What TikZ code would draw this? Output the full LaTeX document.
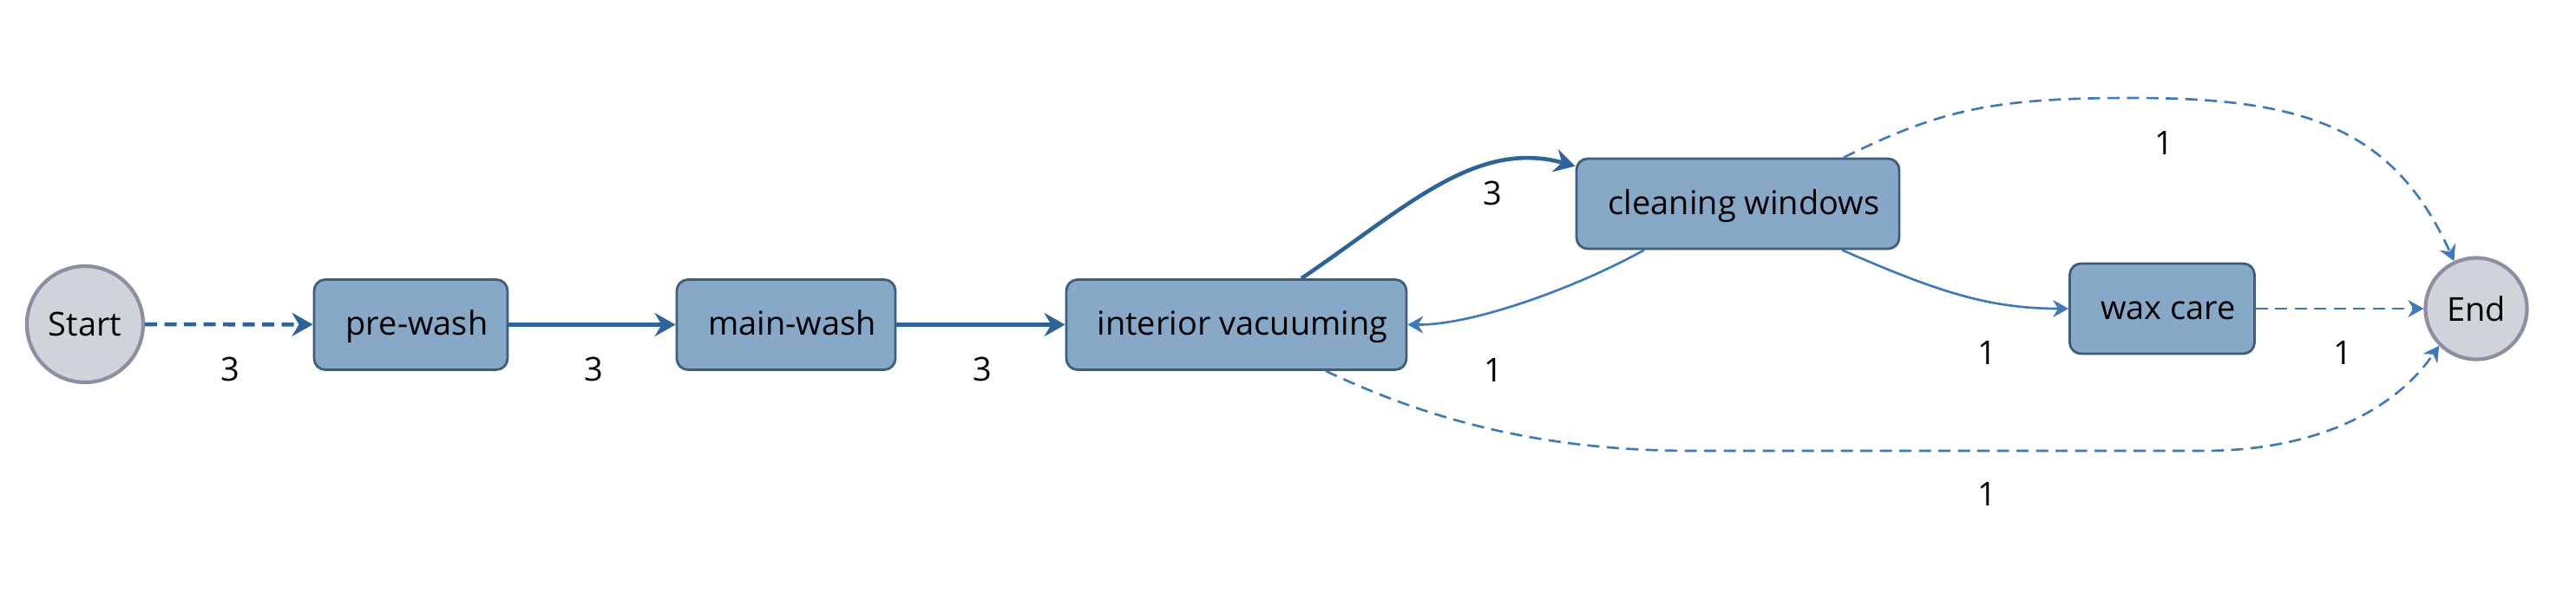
\documentclass[tikz,border=0pt]{standalone}
\usepackage{fontspec}
\setmainfont{Open Sans}
\usepackage{tikz}
\usetikzlibrary{positioning,arrows.meta,calc}
\definecolor{boxfill}{HTML}{88A8C8}
\definecolor{boxline}{HTML}{3E5E7E}
\definecolor{termfill}{HTML}{D1D3DB}
\definecolor{termline}{HTML}{8C8FA3}
\definecolor{heavyblue}{HTML}{2E6399}
\definecolor{lightblue}{HTML}{3D7AB7}
\tikzset{
  actbox/.style={draw=boxline,fill=boxfill,rounded corners=1.3mm,line width=0.8pt,
    minimum height=10.4mm,inner sep=2pt,text height=0.95em,text depth=0.24em,
    execute at begin node={\hspace*{1.4mm}},font=\fontsize{10.8}{13}\selectfont},
  termnode/.style={circle,draw=termline,fill=termfill,line width=1.2pt,
    inner sep=0pt,font=\fontsize{10.8}{13}\selectfont},
  heavy/.style={-{Stealth[length=2.4mm,width=2.7mm,inset=0.8mm]},line width=1.3pt,heavyblue},
  light/.style={-{Stealth[length=1.8mm,width=2.0mm,inset=0.6mm]},line width=0.75pt,lightblue},
  dashline/.style={dash pattern=on 4pt off 2.4pt},
  wlbl/.style={font=\fontsize{10.8}{13}\selectfont,inner sep=1pt},
}
\begin{document}
\begin{tikzpicture}
  \useasboundingbox (0,0) rectangle (29.69,-6.99);
  % ---- activities ----
  \node[termnode,minimum size=13.4mm] (start) at (0.98,-3.74) {Start};
  \node[actbox,minimum width=22.3mm] (prewash) at (4.735,-3.745) {pre-wash};
  \node[actbox,minimum width=25.2mm] (mainwash) at (9.06,-3.745) {main-wash};
  \node[actbox,minimum width=39.2mm] (vacuum) at (14.25,-3.745) {interior vacuuming};
  \node[actbox,minimum width=37.2mm] (windows) at (20.03,-2.35) {cleaning windows};
  \node[actbox,minimum width=21.3mm] (wax) at (24.92,-3.56) {wax care};
  \node[termnode,minimum size=11.7mm] (end) at (28.54,-3.56) {End};
  % ---- frequent flows ----
  \draw[heavy,dashline] (start) -- (prewash);
  \draw[heavy] (prewash) -- (mainwash);
  \draw[heavy] (mainwash) -- (vacuum);
  \draw[heavy] ($(vacuum.north)+(0.75,0)$) .. controls (16.2,-2.4) and (17.0,-1.6)
    .. ($(windows.north west)+(0,-0.1)$);
  % ---- rare flows ----
  \draw[light] ($(windows.south)+(-1.08,0)$) .. controls (18.2,-3.3) and (17.0,-3.75)
    .. (vacuum.east);
  \draw[light] ($(windows.south)+(1.2,0)$) .. controls (22.3,-3.35) and (22.9,-3.56)
    .. (wax.west);
  \draw[light,dashline] ($(windows.north)+(1.22,0)$) .. controls (22.4,-1.25) and (23.0,-1.13)
    .. (24.6,-1.13) .. controls (26.6,-1.13) and (27.6,-1.5) .. (end.115);
  \draw[light,dashline] (wax) -- (end);
  \draw[light,dashline] ($(vacuum.south)+(1.03,0)$) .. controls (16.3,-4.76) and (17.6,-5.2)
    .. (19.5,-5.2) -- (25.4,-5.2) .. controls (26.6,-5.2) and (27.56,-4.79) .. (end.225);
  % ---- weights ----
  \foreach \x/\y/\w/\n in {2.65/-4.26/3/a,6.84/-4.26/3/b,11.32/-4.26/3/c,
      17.20/-2.23/3/d,17.21/-4.27/1/e,24.94/-1.65/1/f,22.90/-4.07/1/g,
      27.00/-4.07/1/h,22.90/-5.70/1/i}
    \node[wlbl] (w\n) at (\x,\y) {\w};
\end{tikzpicture}
\end{document}
